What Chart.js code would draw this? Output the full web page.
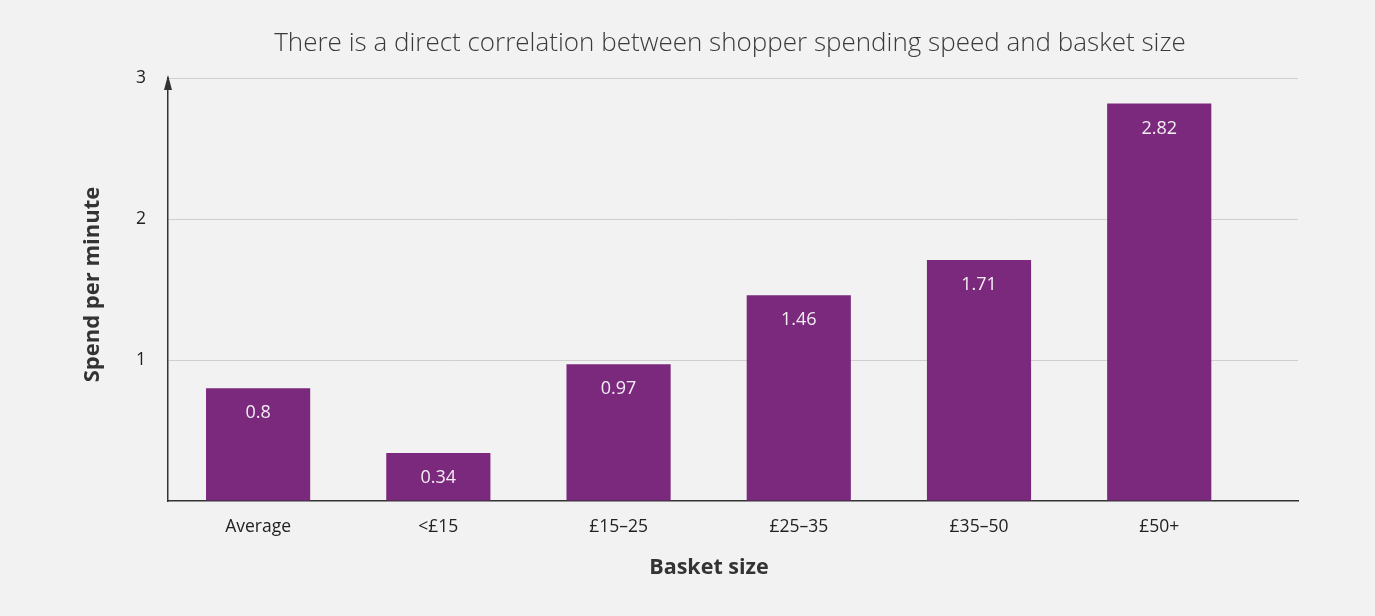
<!DOCTYPE html>
<html>
<head>
<meta charset="utf-8">
<script src="https://cdn.jsdelivr.net/npm/chart.js@4"></script>
<style>
  html, body { margin: 0; padding: 0; background: #f2f2f2; }
  #wrap { width: 1375px; height: 616px; }
</style>
</head>
<body>
<div id="wrap"><canvas id="grafico" width="1375" height="616"></canvas></div>
<script>
const titulo = "There is a direct correlation between shopper spending speed and basket size";
const tituloX = "Basket size";
const tituloY = "Spend per minute";
const categorias = ["Average", "<£15", "£15–25", "£25–35", "£35–50", "£50+"];
const gastoPorMinuto = [0.8, 0.34, 0.97, 1.46, 1.71, 2.82];
const ticksY = [0, 1, 2, 3];

const fuente = "'Open Sans', 'Noto Sans', sans-serif";
const ctx = document.getElementById("grafico").getContext("2d");

// titulos: principal y de los ejes
const pluginTitulos = {
  id: "titulos",
  afterDraw(chart) {
    const { ctx, chartArea } = chart;
    ctx.save();
    ctx.textAlign = "center";
    ctx.textBaseline = "middle";
    ctx.font = "300 26px " + fuente;
    ctx.fillStyle = "#3a3a3a";
    ctx.fillText(titulo, (chartArea.left + chartArea.right) / 2 - 3, 44);

    ctx.font = "bold 21.5px " + fuente;
    ctx.fillStyle = "#333";
    ctx.fillText(tituloX, 709, chartArea.bottom + 67);

    ctx.font = "bold 22px " + fuente;
    ctx.translate(chartArea.left - 75, (chartArea.top + chartArea.bottom) / 2 - 5);
    ctx.rotate(-Math.PI / 2);
    ctx.fillText(tituloY, 0, 0);
    ctx.restore();
  }
};

// flecha arriba del eje y
const pluginFlecha = {
  id: "flecha",
  afterDraw(chart) {
    const { ctx, chartArea } = chart;
    const x = chartArea.left;
    const y = chartArea.top - 3;
    ctx.save();
    ctx.fillStyle = "#333";
    ctx.beginPath();
    ctx.moveTo(x, y);
    ctx.lineTo(x - 4, y + 15);
    ctx.lineTo(x + 4, y + 15);
    ctx.closePath();
    ctx.fill();
    ctx.restore();
  }
};

// valores dentro de las barras
const pluginValores = {
  id: "valores",
  afterDatasetsDraw(chart) {
    const { ctx } = chart;
    const meta = chart.getDatasetMeta(0);
    ctx.save();
    ctx.font = "18px " + fuente;
    ctx.fillStyle = "#f4eef4";
    ctx.textAlign = "center";
    ctx.textBaseline = "middle";
    meta.data.forEach((bar, i) => {
      ctx.fillText(String(gastoPorMinuto[i]), bar.x, bar.y + 25);
    });
    ctx.restore();
  }
};

new Chart(ctx, {
  type: "bar",
  data: {
    datasets: [{
      data: gastoPorMinuto.map((v, i) => ({ x: i, y: v })),
      backgroundColor: "#7a297d",
      barPercentage: 0.578,
      categoryPercentage: 1
    }]
  },
  options: {
    responsive: false,
    animation: false,
    layout: { padding: { top: 78, right: 77, left: 70, bottom: 62 } },
    plugins: {
      legend: { display: false },
      tooltip: { enabled: false }
    },
    scales: {
      x: {
        type: "linear",
        offset: false,
        min: -0.5,
        max: 5.77,
        afterBuildTicks: (scale) => { scale.ticks = categorias.map((c, i) => ({ value: i })); },
        grid: { display: false, drawTicks: false },
        border: { display: true, color: "#333", width: 1.5 },
        ticks: {
          color: "#222",
          font: { family: fuente, size: 17.5 },
          padding: 16,
          autoSkip: false,
          maxRotation: 0,
          callback: (v) => categorias[v]
        }
      },
      y: {
        min: 0,
        max: 3,
        afterBuildTicks: (scale) => { scale.ticks = ticksY.map(v => ({ value: v })); },
        afterFit: (scale) => { scale.width = 98; },
        grid: {
          color: (c) => c.tick && c.tick.value === 0 ? "rgba(0,0,0,0)" : "#cfcfcf",
          drawTicks: false,
          lineWidth: 1
        },
        border: { display: true, color: "#333", width: 1.5 },
        ticks: {
          color: "#222",
          font: { family: fuente, size: 17.5 },
          padding: 22,
          callback: (v) => v === 0 ? "" : String(v)
        }
      }
    }
  },
  plugins: [pluginTitulos, pluginFlecha, pluginValores]
});
</script>
</body>
</html>
